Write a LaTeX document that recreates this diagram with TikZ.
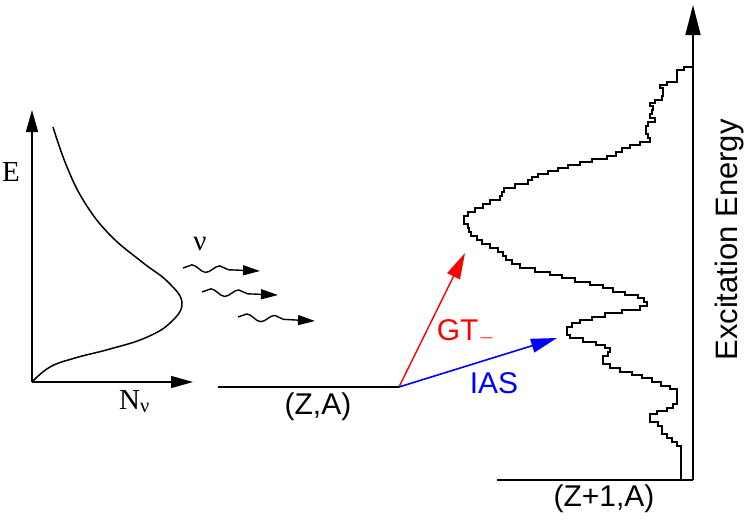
\documentclass[tikz,border=0pt]{standalone}
\usepackage{fontspec}
\setmainfont{Liberation Sans}
\newfontfamily\serif{Liberation Serif}
\usetikzlibrary{arrows.meta, decorations.pathmorphing}
\tikzstyle{axis} = [draw, line width=1.6pt, -{Triangle[length=22pt, width=12pt]}]
\tikzstyle{bigaxis} = [draw, line width=1.6pt, -{Triangle[length=30pt, width=15pt]}]
\tikzstyle{wave} = [draw, line width=1.4pt, -{Triangle[length=17pt, width=10pt]},
    decorate, decoration={snake, segment length=28pt, amplitude=3.5pt, post length=18pt}]
\tikzstyle{trans} = [draw, line width=1.6pt, -{Triangle[length=26pt, width=14pt]}]
\tikzstyle{lbl} = [inner sep=0pt, anchor=base, font=\fontsize{30}{30}\selectfont]
\tikzstyle{rmlbl} = [inner sep=0pt, anchor=base, font=\serif\fontsize{29}{29}\selectfont]

\begin{document}
\begin{tikzpicture}[
    x=1pt,
    y=-1pt,
    line join=miter
]
    \useasboundingbox (0,0) rectangle (747,522);

    % neutrino spectrum
    \coordinate (O) at (32,382);
    \coordinate (Etop) at (32,110);
    \coordinate (Nend) at (193,382);
    \draw[axis] (O) -- (Etop);
    \draw[axis] (O) -- (Nend);
    \node[rmlbl] (E) at (11,181) {E};
    \node[rmlbl, anchor=base west] (Nnu) at (119,409) {N\textsubscript{ν}};
    \draw[line width=1.5pt] plot[smooth, tension=0.7] coordinates {
        (53,127) (67,167) (85,203) (110,235) (142,262) (168,282) (182,303)
        (170,323) (145,338) (110,349) (75,358) (50,367) (O)};

    % incoming neutrinos
    \node[rmlbl] (nu) at (200,250) {ν};
    \coordinate (w1a) at (183,268); \coordinate (w1b) at (260,271);
    \coordinate (w2a) at (202,292); \coordinate (w2b) at (278,295);
    \coordinate (w3a) at (238,317); \coordinate (w3b) at (315,321);
    \draw[wave] (w1a) -- (w1b);
    \draw[wave] (w2a) -- (w2b);
    \draw[wave] (w3a) -- (w3b);

    % ground state of the target
    \coordinate (ZAl) at (218,387);
    \coordinate (ZAr) at (399,387);
    \draw[line width=1.6pt] (ZAl) -- (ZAr);
    \node[lbl] (ZA) at (318,414) {(Z,A)};

    % transitions
    \coordinate (GTtip) at (465,253);
    \coordinate (IAStip) at (557,338);
    \draw[trans, red, line width=1.4pt] (ZAr) -- (GTtip);
    \draw[trans, blue] (ZAr) -- (IAStip);
    \node[lbl, red] (GT) at (466,340) {GT$_{-}$};
    \node[lbl, blue] (IAS) at (494,393) {IAS};

    % final nucleus spectrum
    \coordinate (bl) at (497,480);
    \coordinate (br) at (693,480);
    \coordinate (top) at (693,5);
    \draw[line width=1.6pt] (bl) -- (br);
    \draw[bigaxis] (br) -- (top);
    \node[lbl] (Z1A) at (604,506) {(Z+1,A)};
    \node[lbl, rotate=90, font=\fontsize{31}{31}\selectfont] (Ex) at (737,240) {Excitation Energy};

    \draw[line width=1.5pt] (693,67)
        foreach \x/\y in {684/70, 677/74, 677/78, 677/82, 667/85, 660/88, 663/92, 663/96,
            662/100, 655/103, 650/106, 653/110, 652/114, 650/118, 655/122, 648/126,
            646/130, 646/134, 648/138, 650/142, 640/145, 630/148, 622/152, 616/156,
            607/159, 592/162, 580/165, 568/168, 558/171, 548/174, 538/177, 532/180,
            528/184, 515/188, 504/192, 502/196, 500/200, 490/204, 483/208, 475/212,
            468/216, 464/220, 464/224, 468/228, 469/232, 471/236, 477/240, 482/244,
            490/248, 498/252, 503/256, 506/260, 512/264, 520/268, 535/272, 550/275,
            562/278, 575/282, 590/285, 603/288, 613/292, 625/295, 638/298, 644/302,
            647/306, 640/310, 622/313, 605/317, 592/320, 580/323, 572/327, 567/331,
            567/335, 570/338, 583/342, 596/345, 605/348, 610/352, 608/356, 603/360,
            603/364, 610/368, 620/372, 632/375, 642/378, 652/382, 661/386, 670/389,
            677/392, 677/396, 677/400, 677/404, 673/408, 667/411, 657/414, 650/418,
            650/422, 658/426, 662/430, 662/434, 667/438, 672/442, 677/446, 681/450,
            681/480} { -| (\x,\y) };
\end{tikzpicture}
\end{document}
